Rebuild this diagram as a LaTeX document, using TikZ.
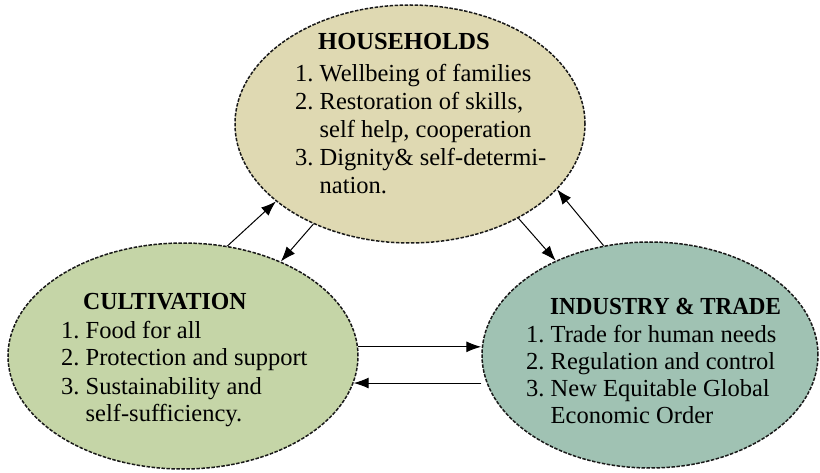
\documentclass[tikz,border=0pt]{standalone}
\usepackage{fontspec}
\usepackage{graphicx}
\setmainfont{Liberation Serif}
\usetikzlibrary{shapes.geometric,arrows.meta}
\definecolor{hhfill}{RGB}{223,217,178}
\definecolor{cufill}{RGB}{197,213,167}
\definecolor{infill}{RGB}{160,194,179}
\definecolor{edge}{RGB}{25,25,25}
\newcommand\mylist[1]{\begin{tabular}[t]{@{}l@{\ }l@{}}#1\end{tabular}}
\tikzset{
  blob/.style={ellipse, draw=edge, line width=1.5pt, dash pattern=on 3.5pt off 1.5pt, inner sep=0pt},
  ttl/.style={anchor=base west, inner sep=0pt, font=\fontsize{24.5}{28}\selectfont\bfseries},
  lst/.style={anchor=base west, inner sep=0pt, font=\fontsize{24.5}{28}\selectfont},
  arr/.style={line width=1pt, -{Latex[length=15pt,width=11pt]}}
}
\begin{document}
\begin{tikzpicture}[x=1pt,y=-1pt]
\useasboundingbox (0,0) rectangle (820,473);
% ellipses
\node[blob, fill=hhfill, minimum width=350pt, minimum height=238pt] (hh) at (410,124) {};
\node[blob, fill=cufill, minimum width=350pt, minimum height=226pt] (cu) at (183,356) {};
\node[blob, fill=infill, minimum width=336pt, minimum height=226pt] (in) at (650,355) {};
% texts
\node[ttl] (hht) at (318,50) {HOUSEHOLDS};
\node[lst] (hhl) at (295,82) {\mylist{1. & Wellbeing of families\\ 2. & Restoration of skills,\\ & self help, cooperation\\ 3. & Dignity\& self-determi-\\ & nation.}};
\node[ttl] (cut) at (83,310) {\scalebox{0.97}[1]{CULTIVATION}};
\node[lst] (cul) at (61,338) {\mylist{1. & Food for all\\ 2. & Protection and support\\ 3. & Sustainability and\\ & self-sufficiency.}};
\node[ttl] (int) at (550,315) {\scalebox{0.94}[1]{INDUSTRY \& TRADE}};
\node[lst, font=\fontsize{24.5}{27}\selectfont] (inl) at (526,343) {\mylist{1. & Trade for human needs\\ 2. & Regulation and control\\ 3. & New Equitable Global\\ & Economic Order}};
% connectors
\draw[arr] (cu.68.4) -- (hh.210);
\draw[arr] (hh.226.4) -- (cu.44.7);
\draw[arr] (hh.319.5) -- (in.135);
\draw[arr] (in.113.6) -- (hh.336);
\draw[arr] (cu.3) -- (cu.3 -| in.west);
\draw[arr] (in.west |- cu.-9.5) -- (cu.-9.5);
\end{tikzpicture}
\end{document}
